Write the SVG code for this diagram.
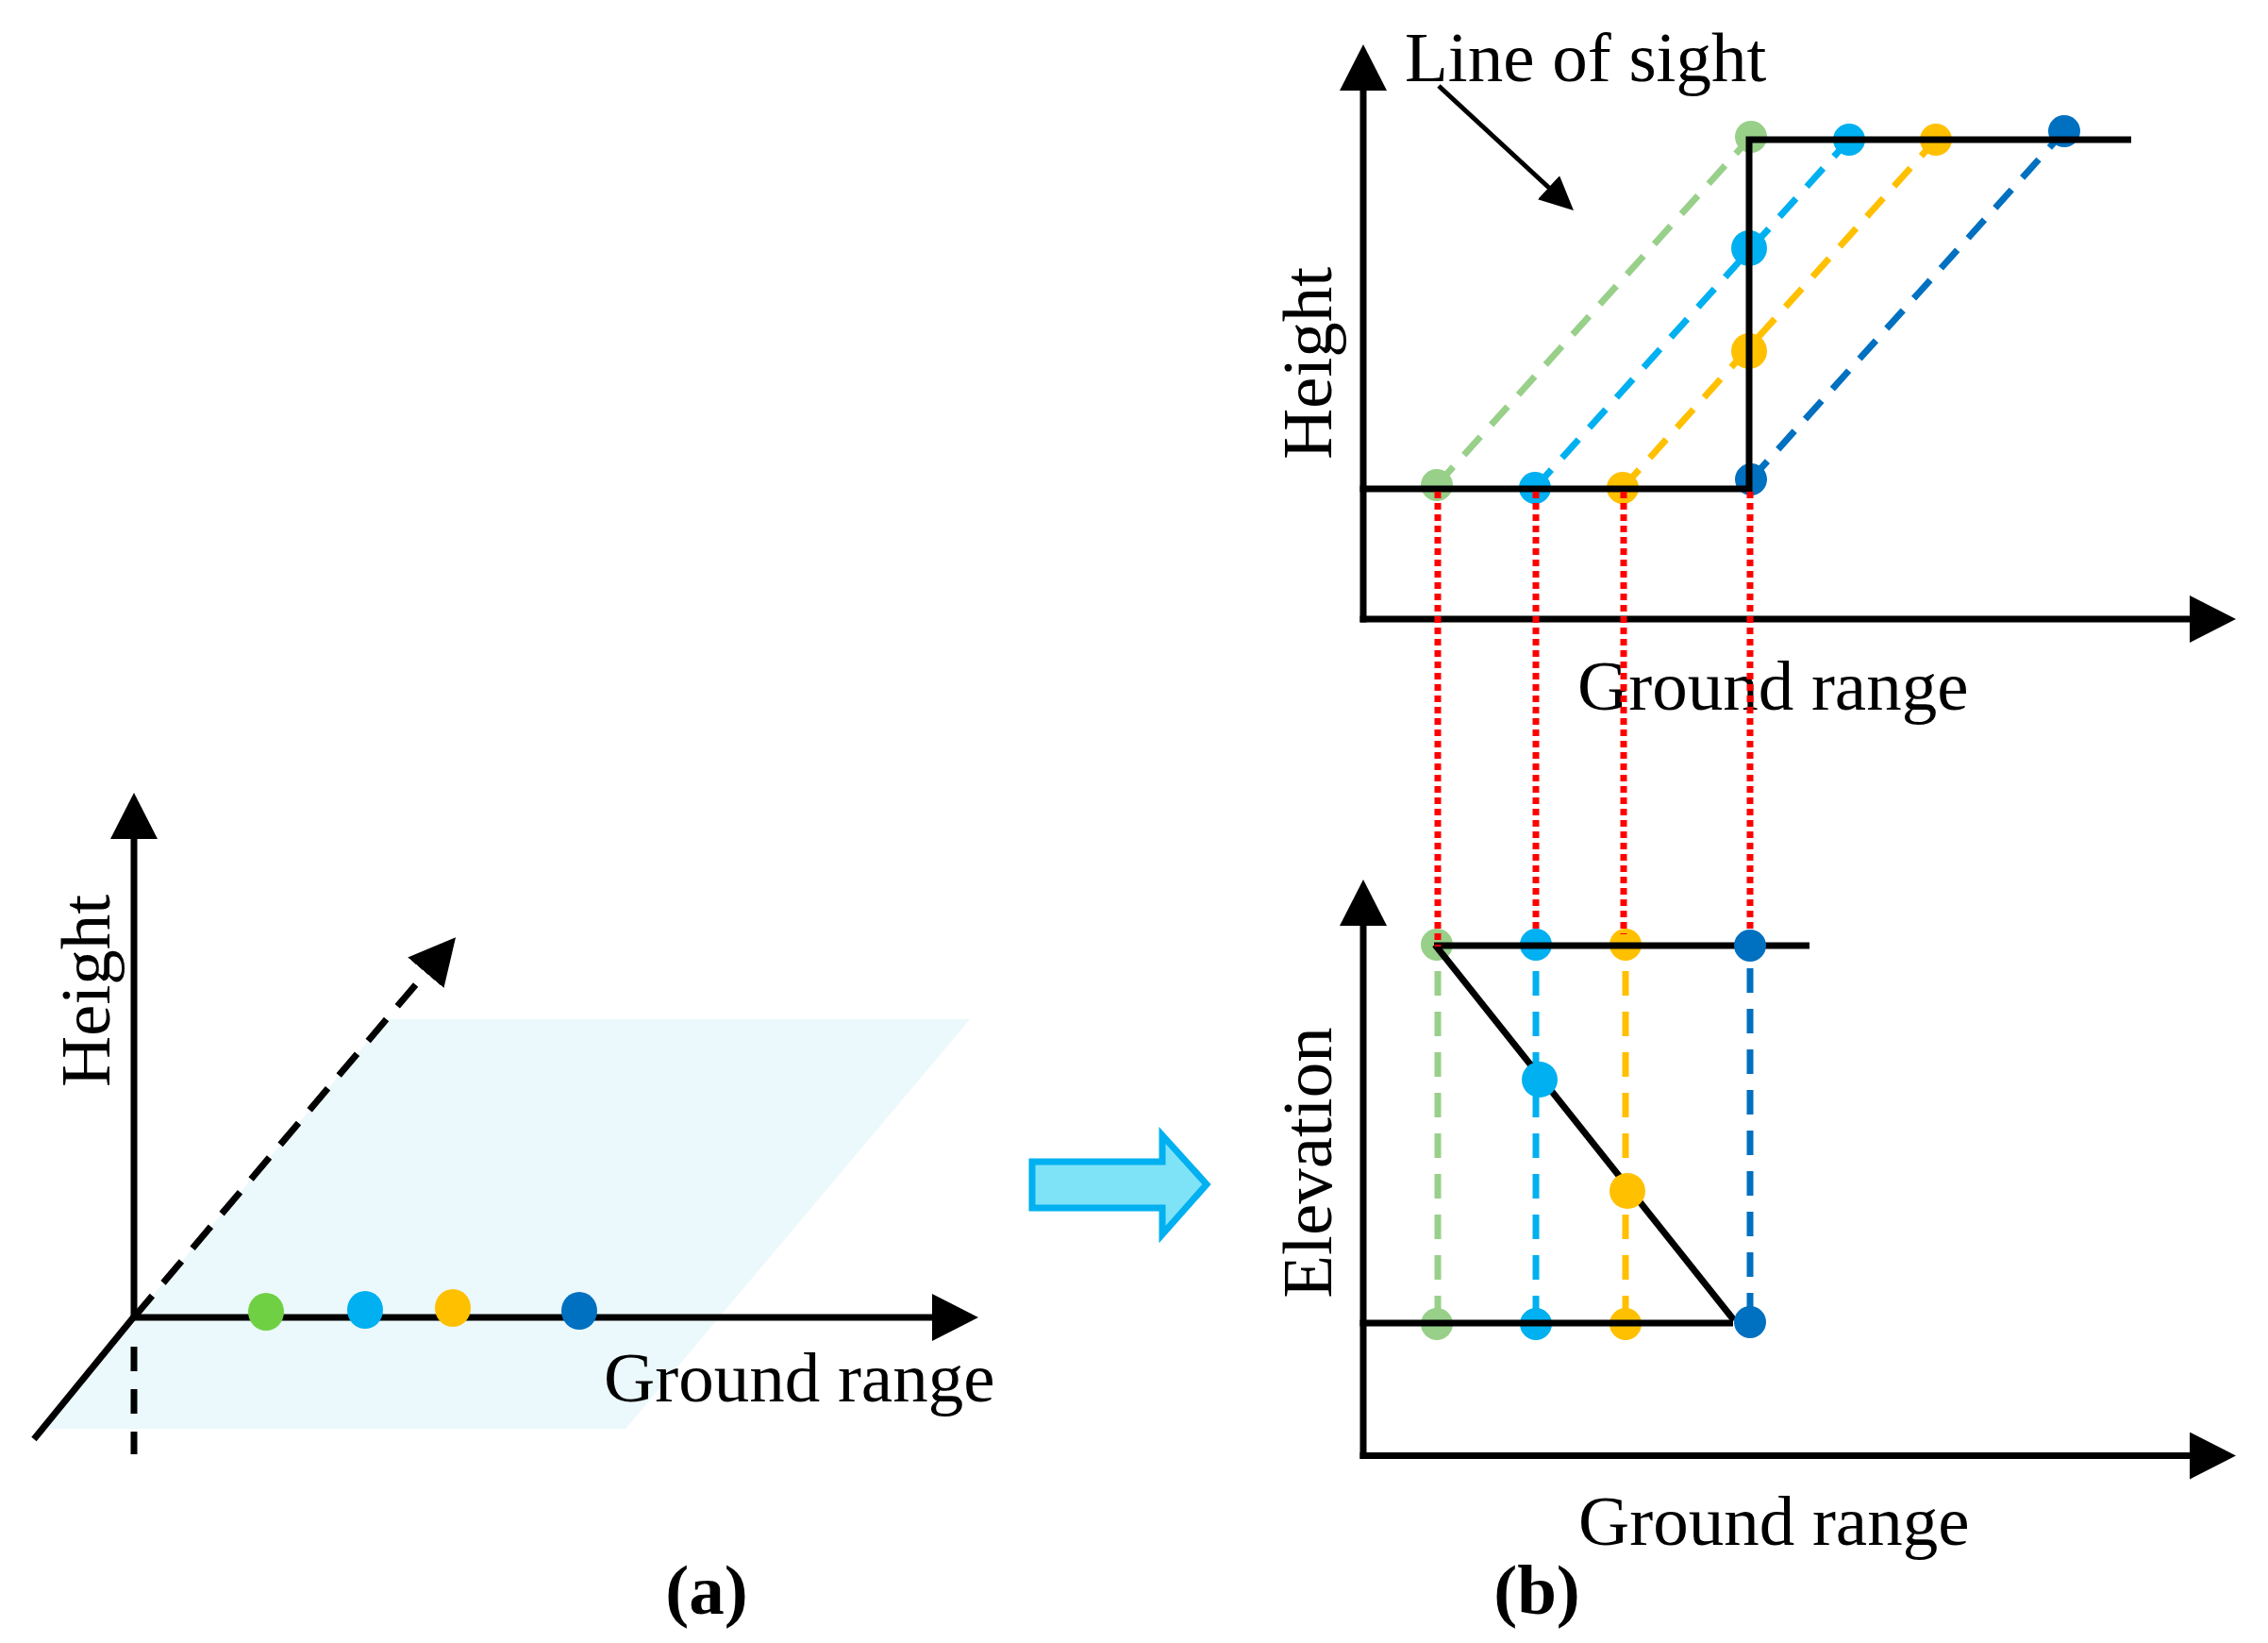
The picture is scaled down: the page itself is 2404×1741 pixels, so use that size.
<svg xmlns="http://www.w3.org/2000/svg" width="2404" height="1741" viewBox="0 0 2404 1741">
<defs>
<marker id="ah" markerUnits="userSpaceOnUse" markerWidth="50" markerHeight="50" viewBox="0 0 50 50" refX="1" refY="25" orient="auto"><path d="M0,0 L49,25 L0,50 z" fill="#000"/></marker>
<marker id="ahs" markerUnits="userSpaceOnUse" markerWidth="36" markerHeight="34" viewBox="0 0 36 34" refX="2" refY="17" orient="auto"><path d="M0,0 L36,17 L0,34 z" fill="#000"/></marker>
<style>
.ax{stroke:#000;stroke-width:7;fill:none}
.ln{stroke:#000;stroke-width:7;fill:none}
.t{font-family:"Liberation Serif","Times New Roman",serif;font-size:75px;fill:#000}
.b{font-weight:bold}
.d{stroke-width:7;stroke-dasharray:26 17;fill:none}
.red{stroke:#FF0000;stroke-width:7;stroke-dasharray:7 5;fill:none}
.g1{fill:#70D044}
.g{fill:#98D08A}
.c{fill:#00B0F0}
.y{fill:#FFC000}
.bl{fill:#0070C0}
.sg{stroke:#98D08A}
.sc{stroke:#00B0F0}
.sy{stroke:#FFC000}
.sb{stroke:#0070C0}
</style>
</defs>
<rect width="2404" height="1741" fill="#fff"/>

<!-- Panel (a) -->
<g id="panel-a">
  <polygon id="ground-plane" points="42,1514 663,1514 1028,1080 410,1080" fill="#EBF8FC"/>
  <g id="a-axes">
    <line class="ax" x1="142" y1="1399" x2="142" y2="888" marker-end="url(#ah)"/>
    <line class="ax" x1="139" y1="1396" x2="989" y2="1396" marker-end="url(#ah)"/>
    <line class="ax" x1="143" y1="1394" x2="36" y2="1525"/>
    <line class="ax" x1="142" y1="1427" x2="142" y2="1541" stroke-dasharray="26 19"/>
    <line class="ax" x1="142" y1="1396" x2="452" y2="1030" stroke-dasharray="30 18" marker-end="url(#ah)"/>
  </g>
  <g id="a-dots">
    <ellipse class="g1" cx="282" cy="1390" rx="19" ry="20"/>
    <ellipse class="c" cx="387" cy="1388" rx="19" ry="20"/>
    <ellipse class="y" cx="480" cy="1386" rx="19" ry="20"/>
    <ellipse class="bl" cx="614" cy="1389" rx="19" ry="20"/>
  </g>
  <text class="t" transform="translate(116,1050) rotate(-90)" text-anchor="middle">Height</text>
  <text class="t" x="640" y="1485">Ground range</text>
  <text class="t b" x="749" y="1710" text-anchor="middle">(a)</text>
</g>

<!-- Block arrow -->
<g id="block-arrow">
  <polygon points="1094,1231 1232,1231 1232,1203 1279,1255 1232,1308 1232,1280 1094,1280" fill="#7FE3F8" stroke="#00B0F0" stroke-width="7"/>
</g>

<!-- Panel (b) top -->
<g id="panel-b-top">
  <g id="top-axes">
    <line class="ax" x1="1445" y1="659.5" x2="1445" y2="95" marker-end="url(#ah)"/>
    <line class="ax" x1="1441.5" y1="656" x2="2322" y2="656" marker-end="url(#ah)"/>
  </g>
  <g id="top-los-lines">
    <line class="d sg" x1="1523" y1="514" x2="1856" y2="145"/>
    <line class="d sc" x1="1627" y1="517" x2="1960" y2="148"/>
    <line class="d sy" x1="1720" y1="517" x2="2052" y2="148"/>
    <line class="d sb" x1="1856" y1="508" x2="2188" y2="139"/>
  </g>
  <g id="top-dots">
    <circle class="g" cx="1856" cy="145" r="17"/>
    <circle class="g" cx="1523" cy="514" r="17"/>
    <circle class="c" cx="1960" cy="148" r="17"/>
    <circle class="c" cx="1854" cy="263" r="19"/>
    <circle class="c" cx="1627" cy="517" r="17"/>
    <circle class="y" cx="2052" cy="148" r="17"/>
    <circle class="y" cx="1854" cy="372" r="19"/>
    <circle class="y" cx="1720" cy="517" r="17"/>
    <circle class="bl" cx="2188" cy="139" r="17"/>
    <circle class="bl" cx="1856" cy="508" r="17"/>
  </g>
  <path id="step-profile" class="ln" d="M1441.5,518 H1854 V148 H2259"/>
  <g id="line-of-sight">
    <line x1="1525" y1="91" x2="1643" y2="200" stroke="#000" stroke-width="5" marker-end="url(#ahs)"/>
    <text class="t" x="1489" y="86">Line of sight</text>
  </g>
  <text class="t" transform="translate(1411,385) rotate(-90)" text-anchor="middle">Height</text>
  <text class="t" x="1672" y="752">Ground range</text>
</g>

<!-- Panel (b) bottom -->
<g id="panel-b-bottom">
  <g id="bottom-axes">
    <line class="ax" x1="1445" y1="1546" x2="1445" y2="980" marker-end="url(#ah)"/>
    <line class="ax" x1="1441.5" y1="1542.5" x2="2322" y2="1542.5" marker-end="url(#ah)"/>
  </g>
  <g id="bottom-vlines">
    <line class="d sg" x1="1524" y1="1029" x2="1524" y2="1392"/>
    <line class="d sc" x1="1628" y1="1029" x2="1628" y2="1392"/>
    <line class="d sy" x1="1723" y1="1029" x2="1723" y2="1392"/>
    <line class="d sb" x1="1855" y1="1026" x2="1855" y2="1392"/>
  </g>
  <g id="bottom-dots">
    <circle class="g" cx="1523" cy="1001" r="17"/>
    <circle class="c" cx="1628" cy="1001" r="17"/>
    <circle class="y" cx="1723" cy="1001" r="17"/>
    <circle class="g" cx="1523" cy="1403" r="17"/>
    <circle class="c" cx="1628" cy="1403" r="17"/>
    <circle class="y" cx="1723" cy="1403" r="17"/>
  </g>
  <g id="elevation-profile">
    <line class="ln" x1="1520" y1="1002" x2="1918" y2="1002"/>
    <line class="ln" x1="1441.5" y1="1402" x2="1837" y2="1402"/>
    <line class="ln" x1="1521" y1="1001" x2="1838" y2="1399"/>
  </g>
  <g id="bottom-dots-top">
    <circle class="bl" cx="1855" cy="1002" r="17"/>
    <circle class="bl" cx="1855" cy="1401" r="17"/>
    <circle class="c" cx="1632" cy="1144" r="19"/>
    <circle class="y" cx="1725" cy="1262" r="19"/>
  </g>
  <text class="t" transform="translate(1411,1232) rotate(-90)" text-anchor="middle">Elevation</text>
  <text class="t" x="1673" y="1637">Ground range</text>
  <text class="t b" x="1629" y="1710" text-anchor="middle">(b)</text>
</g>

<!-- Connectors: red projection lines -->
<g id="connectors">
  <line class="red" x1="1524" y1="521" x2="1524" y2="1003"/>
  <line class="red" x1="1628" y1="521" x2="1628" y2="988"/>
  <line class="red" x1="1721" y1="521" x2="1721" y2="990"/>
  <line class="red" x1="1855" y1="521" x2="1855" y2="986"/>
</g>
</svg>
